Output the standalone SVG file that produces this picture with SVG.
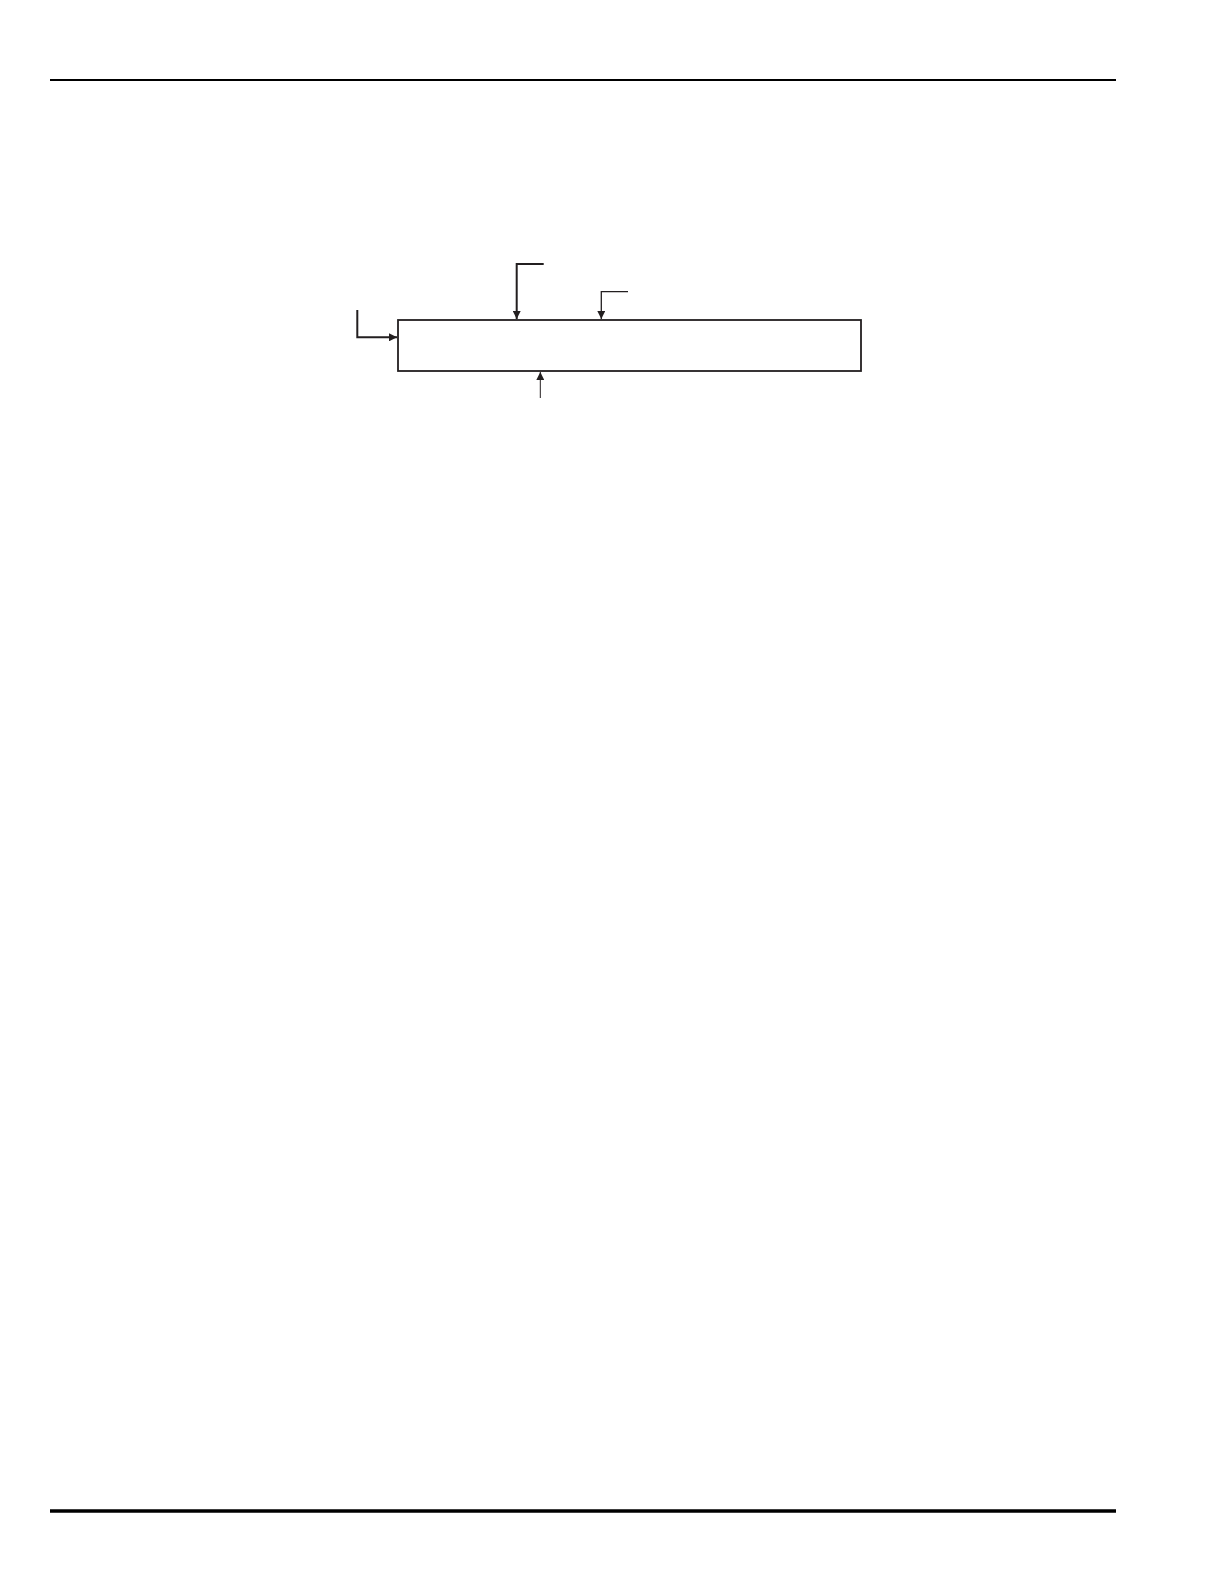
<svg xmlns="http://www.w3.org/2000/svg" width="1224" height="1584" viewBox="0 0 1224 1584">
<style>
.rule{stroke:#000;fill:none}
.box{fill:#fff;stroke:#231f20;stroke-width:1.8}
.c{stroke:#231f20;fill:none}
</style>
<defs>
<marker id="ah" viewBox="0 0 10 10" refX="10" refY="5" markerWidth="8" markerHeight="8" markerUnits="userSpaceOnUse" orient="auto">
<path d="M0,0 L10,5 L0,10 Z" fill="#231f20"/>
</marker>
</defs>
<rect width="1224" height="1584" fill="#fff"/>
<line class="rule" x1="50" y1="80" x2="1116" y2="80" stroke-width="2"/>
<line class="rule" x1="50" y1="1511" x2="1116" y2="1511" stroke-width="3.7"/>
<g id="node-box">
<rect class="box" x="398" y="320" width="463" height="51"/>
</g>
<g id="connectors">
<path class="c" d="M357.3,310 V337.3 H397" stroke-width="2" marker-end="url(#ah)"/>
<path class="c" d="M543.7,264 H516.7 V319" stroke-width="2" marker-end="url(#ah)"/>
<path class="c" d="M628,291.7 H601.3 V319" stroke-width="1.3" marker-end="url(#ah)"/>
<path class="c" d="M540.3,398 V372" stroke-width="1" marker-end="url(#ah)"/>
</g>
</svg>
